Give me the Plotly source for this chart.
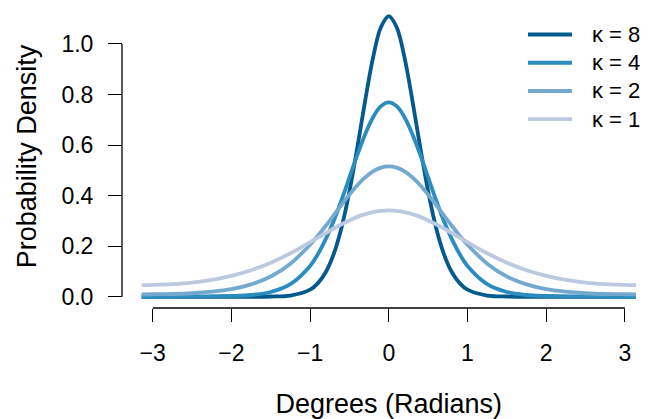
import plotly.graph_objects as go

# Angle (radians)
angles = [-3.14, -3.0, -2.75, -2.5, -2.25, -2.0, -1.75, -1.5, -1.25, -1.0,
          -0.9, -0.8, -0.7, -0.6, -0.5, -0.4, -0.3, -0.2, -0.1, 0.0,
          0.1, 0.2, 0.3, 0.4, 0.5, 0.6, 0.7, 0.8, 0.9, 1.0,
          1.25, 1.5, 1.75, 2.0, 2.25, 2.5, 2.75, 3.0, 3.14]

dens_k8 = [0.000, 0.000, 0.000, 0.000, 0.000, 0.000, 0.000, 0.001, 0.005, 0.028,
           0.054, 0.098, 0.169, 0.274, 0.417, 0.590, 0.776, 0.946, 1.066, 1.110,
           1.066, 0.946, 0.776, 0.590, 0.417, 0.274, 0.169, 0.098, 0.054, 0.028,
           0.005, 0.001, 0.000, 0.000, 0.000, 0.000, 0.000, 0.000, 0.000]
dens_k4 = [0.000, 0.000, 0.000, 0.001, 0.001, 0.003, 0.007, 0.019, 0.050, 0.122,
           0.169, 0.229, 0.300, 0.383, 0.472, 0.561, 0.643, 0.710, 0.754, 0.769,
           0.754, 0.710, 0.643, 0.561, 0.472, 0.383, 0.300, 0.229, 0.169, 0.122,
           0.050, 0.019, 0.007, 0.003, 0.001, 0.001, 0.000, 0.000, 0.000]
dens_k2 = [0.009, 0.010, 0.011, 0.014, 0.020, 0.030, 0.049, 0.080, 0.131, 0.206,
           0.242, 0.281, 0.322, 0.364, 0.404, 0.441, 0.472, 0.496, 0.511, 0.516,
           0.511, 0.496, 0.472, 0.441, 0.404, 0.364, 0.322, 0.281, 0.242, 0.206,
           0.131, 0.080, 0.049, 0.030, 0.020, 0.014, 0.011, 0.010, 0.009]
dens_k1 = [0.046, 0.047, 0.050, 0.056, 0.067, 0.083, 0.105, 0.135, 0.172, 0.216,
           0.234, 0.252, 0.270, 0.287, 0.302, 0.316, 0.327, 0.335, 0.340, 0.342,
           0.340, 0.335, 0.327, 0.316, 0.302, 0.287, 0.270, 0.252, 0.234, 0.216,
           0.172, 0.135, 0.105, 0.083, 0.067, 0.056, 0.050, 0.047, 0.046]

series_names = ["κ = 8", "κ = 4", "κ = 2", "κ = 1"]
series_vals = [dens_k8, dens_k4, dens_k2, dens_k1]
colors = ["#045a8d", "#2b8cbe", "#74a9cf", "#bdc9e1"]

x_ticks = [-3, -2, -1, 0, 1, 2, 3]
x_ticktext = ["−3", "−2", "−1", "0", "1", "2", "3"]
y_ticks = [0.0, 0.2, 0.4, 0.6, 0.8, 1.0]
y_ticktext = ["0.0", "0.2", "0.4", "0.6", "0.8", "1.0"]

FONT = "Liberation Sans, Arial, Helvetica, sans-serif"
W, H = 657, 419
ML, MR, MT, MB = 122, 11, 5, 106
PW, PH = W - ML - MR, H - MT - MB

fig = go.Figure()
for name, vals, col in zip(series_names, series_vals, colors):
    fig.add_trace(go.Scatter(
        x=angles, y=vals, mode="lines", name=name,
        line=dict(color=col, width=3.8, shape="spline", smoothing=1.0),
        showlegend=False,
    ))

fig.update_layout(
    width=W, height=H,
    margin=dict(l=ML, r=MR, t=MT, b=MB),
    paper_bgcolor="white", plot_bgcolor="white",
    font=dict(family=FONT, color="black", size=23),
    xaxis=dict(
        domain=[0.0183, 1.0],
        range=[-3.268, 3.268],
        tickmode="array", tickvals=x_ticks, ticktext=x_ticktext,
        ticks="outside", ticklen=13, tickwidth=1.3, tickcolor="black",
        showline=False, showgrid=False, zeroline=False,
        tickfont=dict(size=23), ticklabelstandoff=11,
        title=dict(text="Degrees (Radians)", font=dict(size=27), standoff=30),
        anchor="y",
    ),
    yaxis=dict(
        range=[-0.0444, 1.154],
        anchor="free", position=0.0,
        tickmode="array", tickvals=y_ticks, ticktext=y_ticktext,
        ticks="outside", ticklen=14, tickwidth=1.3, tickcolor="black",
        showline=False, showgrid=False, zeroline=False,
        tickfont=dict(size=23), ticklabelstandoff=10,
        title=dict(text="Probability Density", font=dict(size=27), standoff=15),
    ),
)

# axis lines spanning only from first to last tick (R style)
fig.add_shape(type="line", xref="x", yref="paper",
              x0=x_ticks[0], x1=x_ticks[-1], y0=0, y1=0,
              line=dict(color="black", width=1.3))
fig.add_shape(type="line", xref="paper", yref="y",
              x0=0, x1=0, y0=y_ticks[0], y1=y_ticks[-1],
              line=dict(color="black", width=1.3))

# legend (R-style, top right)
leg_top_px, leg_step_px = 35, 28.7
line_x0_px, line_x1_px, text_x_px = 528, 572, 590
for i, (name, col) in enumerate(zip(series_names, colors)):
    py = leg_top_px + i * leg_step_px
    yp = (H - MB - py) / PH
    fig.add_shape(type="line", xref="paper", yref="paper",
                  x0=(line_x0_px - ML) / PW, x1=(line_x1_px - ML) / PW,
                  y0=yp, y1=yp, line=dict(color=col, width=3.8))
    fig.add_annotation(xref="paper", yref="paper",
                       x=(text_x_px - ML) / PW, y=yp,
                       xanchor="left", yanchor="middle",
                       text=name, showarrow=False,
                       font=dict(size=22, family=FONT, color="black"))

fig.write_html("out.html")
